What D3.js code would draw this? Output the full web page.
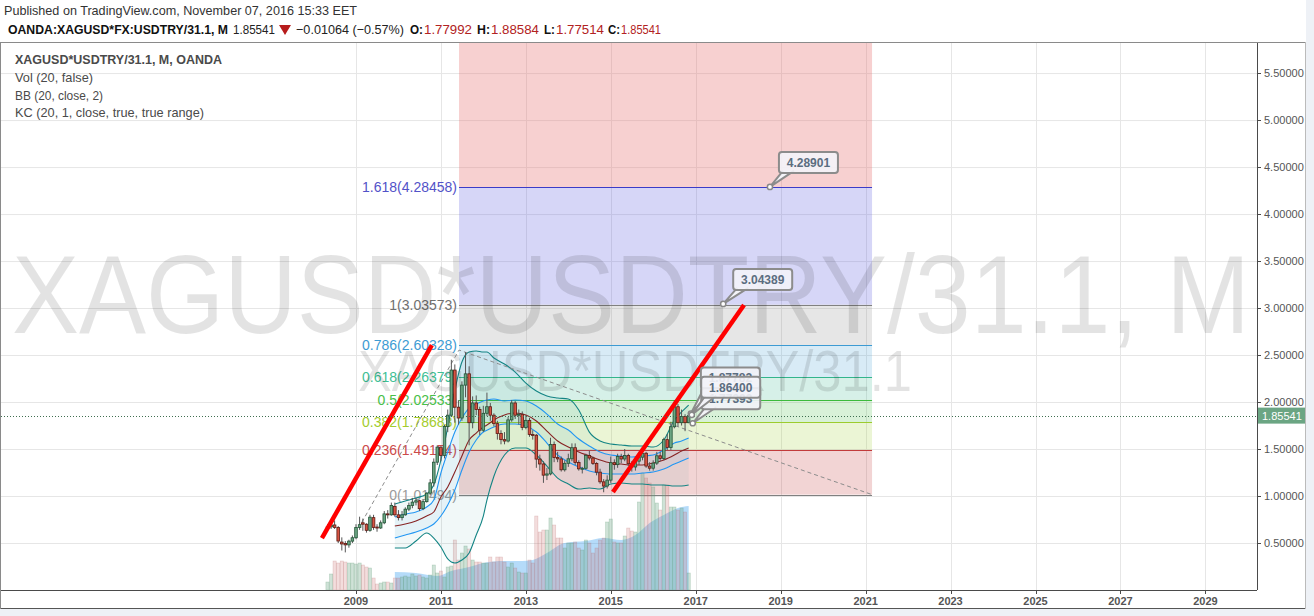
<!DOCTYPE html>
<html><head><meta charset="utf-8">
<script src="https://cdn.jsdelivr.net/npm/d3@7"></script>
<style>
html,body{margin:0;padding:0;background:#eef1f6;}
svg{display:block;}
text{font-family:"Liberation Sans",Arial,sans-serif;}
</style></head><body>
<svg id="c" width="1314" height="616"></svg>
<script>
// ---------------- DATA ----------------
const months = [
"2008-05","2008-06","2008-07","2008-08","2008-09","2008-10","2008-11","2008-12",
"2009-01","2009-02","2009-03","2009-04","2009-05","2009-06","2009-07","2009-08","2009-09","2009-10","2009-11","2009-12",
"2010-01","2010-02","2010-03","2010-04","2010-05","2010-06","2010-07","2010-08","2010-09","2010-10","2010-11","2010-12",
"2011-01","2011-02","2011-03","2011-04","2011-05","2011-06","2011-07","2011-08","2011-09","2011-10","2011-11","2011-12",
"2012-01","2012-02","2012-03","2012-04","2012-05","2012-06","2012-07","2012-08","2012-09","2012-10","2012-11","2012-12",
"2013-01","2013-02","2013-03","2013-04","2013-05","2013-06","2013-07","2013-08","2013-09","2013-10","2013-11","2013-12",
"2014-01","2014-02","2014-03","2014-04","2014-05","2014-06","2014-07","2014-08","2014-09","2014-10","2014-11","2014-12",
"2015-01","2015-02","2015-03","2015-04","2015-05","2015-06","2015-07","2015-08","2015-09","2015-10","2015-11","2015-12",
"2016-01","2016-02","2016-03","2016-04","2016-05","2016-06","2016-07","2016-08","2016-09","2016-10","2016-11"];
const open = [
0.655,0.672,0.692,0.666,0.51,0.495,0.48,0.52,
0.556,0.665,0.715,0.70,0.635,0.77,0.67,0.66,0.715,0.81,0.80,0.89,
0.80,0.77,0.80,0.86,0.90,0.935,0.95,0.865,0.94,1.03,1.14,1.36,
1.52,1.43,1.74,1.86,2.34,1.945,1.83,2.18,2.30,1.78,1.99,1.92,
1.70,1.88,1.95,1.86,1.77,1.665,1.60,1.585,1.81,1.99,1.86,1.87,
1.73,1.805,1.655,1.647,1.393,1.341,1.222,1.235,1.548,1.409,1.395,1.279,
1.348,1.396,1.514,1.356,1.289,1.295,1.431,1.404,1.347,1.254,1.151,1.106,
1.169,1.355,1.334,1.421,1.394,1.431,1.344,1.309,1.371,1.413,1.455,1.319,
1.296,1.35,1.428,1.40,1.60,1.517,1.737,1.95,1.78,1.846,1.77992];
const high = [
0.70,0.71,0.74,0.68,0.56,0.52,0.535,0.58,
0.70,0.78,0.76,0.71,0.80,0.80,0.70,0.74,0.84,0.85,0.93,0.93,
0.85,0.84,0.88,0.93,0.98,0.98,0.96,0.96,1.04,1.18,1.40,1.54,
1.53,1.76,1.92,2.45,2.40,2.02,2.22,2.53,2.38,2.06,2.07,1.95,
1.96,2.10,1.99,1.88,1.80,1.70,1.68,1.84,2.02,2.01,1.92,1.90,
1.86,1.83,1.70,1.66,1.44,1.37,1.30,1.62,1.58,1.47,1.42,1.38,
1.45,1.56,1.56,1.38,1.31,1.45,1.48,1.42,1.36,1.29,1.18,1.22,
1.42,1.39,1.45,1.45,1.50,1.45,1.37,1.42,1.47,1.50,1.47,1.36,
1.38,1.47,1.47,1.62,1.66,1.79,2.02,1.98,1.92,1.87,1.88584];
const low = [
0.64,0.65,0.65,0.50,0.42,0.40,0.45,0.50,
0.54,0.64,0.63,0.61,0.62,0.64,0.62,0.65,0.70,0.76,0.79,0.78,
0.74,0.74,0.79,0.84,0.87,0.90,0.84,0.85,0.93,1.01,1.10,1.33,
1.37,1.40,1.68,1.84,1.78,1.76,1.80,2.05,1.54,1.72,1.86,1.65,
1.68,1.85,1.80,1.74,1.60,1.55,1.55,1.57,1.79,1.82,1.76,1.70,
1.71,1.63,1.60,1.30,1.27,1.14,1.17,1.22,1.36,1.36,1.26,1.26,
1.31,1.37,1.33,1.27,1.24,1.28,1.38,1.33,1.22,1.13,1.04,1.08,
1.14,1.28,1.30,1.35,1.37,1.32,1.26,1.27,1.33,1.38,1.30,1.27,
1.27,1.33,1.37,1.38,1.49,1.49,1.72,1.74,1.75,1.69,1.77514];
const close = [
0.672,0.692,0.666,0.521,0.49,0.48,0.52,0.556,
0.665,0.695,0.70,0.635,0.775,0.665,0.66,0.715,0.81,0.80,0.90,0.80,
0.77,0.80,0.86,0.90,0.935,0.95,0.865,0.94,1.03,1.14,1.36,1.52,
1.43,1.74,1.86,2.34,1.945,1.83,2.18,2.30,1.78,1.99,1.92,1.70,
1.88,1.95,1.86,1.77,1.665,1.60,1.585,1.81,1.99,1.86,1.87,1.73,
1.805,1.655,1.647,1.393,1.341,1.222,1.235,1.548,1.409,1.395,1.279,1.348,
1.396,1.514,1.356,1.289,1.295,1.431,1.404,1.347,1.254,1.151,1.106,1.169,
1.355,1.334,1.421,1.394,1.431,1.344,1.309,1.371,1.413,1.455,1.319,1.296,
1.35,1.428,1.40,1.60,1.517,1.737,1.95,1.78,1.846,1.78,1.85541];
const volume = [
8,16,29,27,29,28,27,27,
26,27,25,23,22,12,6,7,8,8,7,12,
12,13,14,13,16,14,15,13,12,15,25,17,
19,13,23,24,50,30,37,44,41,30,28,28,
27,27,33,28,33,33,28,23,27,22,18,17,
17,30,27,74,58,60,60,72,65,52,52,42,
47,47,48,42,40,50,47,37,42,50,52,68,
71,48,47,47,54,62,59,58,88,117,112,107,
103,87,80,105,105,83,83,80,82,78,17];

// indicator readings
const bandDates = ["2009-12","2010-03","2010-06","2010-09","2010-11","2011-01","2011-03","2011-05","2011-07","2011-09","2011-11","2012-01","2012-02","2012-04","2012-07","2012-10","2013-01","2013-04","2013-07","2013-10","2014-01","2014-04","2014-07","2014-10","2015-01","2015-04","2015-07","2015-10","2016-01","2016-04","2016-07","2016-09","2016-11"];
const bbUpper = [0.915,0.947,0.979,1.021,1.117,1.383,1.734,2.128,2.426,2.532,2.543,2.532,2.532,2.468,2.404,2.319,2.202,2.117,2.064,2.043,2.032,1.915,1.68,1.585,1.553,1.543,1.532,1.532,1.521,1.596,1.809,1.894,1.968];
const bbBasis = [0.681,0.702,0.734,0.787,0.830,0.989,1.096,1.255,1.426,1.596,1.67,1.734,1.755,1.809,1.862,1.883,1.862,1.798,1.691,1.585,1.521,1.468,1.426,1.383,1.351,1.34,1.33,1.33,1.351,1.383,1.436,1.479,1.511];
const bbLower = [0.447,0.447,0.521,0.606,0.553,0.457,0.330,0.287,0.319,0.394,0.585,0.787,0.957,1.21,1.436,1.511,1.511,1.436,1.319,1.191,1.128,1.074,1.085,1.074,1.128,1.138,1.128,1.128,1.117,1.117,1.106,1.106,1.117];
const kcUpper = [0.777,0.809,0.830,0.883,0.957,1.245,1.468,1.681,1.830,1.936,1.979,2.011,2.021,2.032,2.011,2.021,2.011,1.957,1.872,1.766,1.702,1.606,1.532,1.468,1.436,1.426,1.415,1.426,1.436,1.489,1.564,1.585,1.617];
const kcLower = [0.553,0.585,0.617,0.660,0.702,0.787,0.904,1.064,1.277,1.468,1.596,1.681,1.70,1.734,1.766,1.766,1.745,1.681,1.564,1.436,1.362,1.309,1.266,1.245,1.234,1.234,1.234,1.245,1.255,1.287,1.340,1.372,1.404];
const volMaDates = ["2009-12","2010-06","2010-12","2011-04","2011-09","2012-01","2012-07","2012-12","2013-03","2013-07","2013-12","2014-06","2014-11","2015-04","2015-08","2015-12","2016-04","2016-08","2016-11"];
const volMa = [18,17,14,19,23,27,29,29,30,37,47,49,52,50,55,67,75,82,84];

// fib extension
const fibRatios = ["1.618","1","0.786","0.618","0.5","0.382","0.236","0"];
const fibPrices = [4.28458,3.03573,2.60328,2.26379,2.02533,1.78683,1.49154,1.01494];
const fibAnchorDates = ["2009-02-20","2011-06-06","2021-02-25"];
const fibAnchorPrices = [0.72,2.553,1.01494];

// user trend lines (red)
const trendStartDates = ["2008-03-14","2015-01-20"];
const trendStartPrices = [0.553,1.043];
const trendEndDates = ["2010-10-15","2018-02-20"];
const trendEndPrices = [2.606,3.032];

// price-label callouts
const calloutDates = ["2018-10-01","2017-08-25","2016-11-20","2016-12-06","2016-11-28"];
const calloutPrices = [4.28901,3.04389,1.87782,1.77393,1.864];
const calloutTexts = ["4.28901","3.04389","1.87782","1.77393","1.86400"];

const yTicks = [0.5,1,1.5,2,2.5,3,3.5,4,4.5,5,5.5];
const xTickYears = [2009,2011,2013,2015,2017,2019,2021,2023,2025,2027,2029];
const lastPrice = 1.85541;

// ---------------- LAYOUT / STYLE ----------------
const P = {left:1, right:1257, top:43, bottom:590};
const pm = d3.timeParse("%Y-%m"), pd = d3.timeParse("%Y-%m-%d");
const dates = months.map(pm);
const x = d3.scaleTime().domain([new Date(2009,0,1), new Date(2029,0,1)]).range([356,1205.4]);
const y = d3.scaleLinear().domain([0,5.82]).range([P.bottom,P.top]);
const v = d3.scaleLinear().domain([0,130]).range([P.bottom,P.bottom-130]);
const fibLineColors = ["#3c3cc8","#808080","#3d9bd3","#33b58c","#3cba3c","#9ccc2e","#c23b3b","#808080"];
const fibTextColors = ["#5252c8","#707070","#3d9bd3","#3fbf95","#49c049","#a3cc2e","#cc4a4a","#9a9a9a"];
const fibFills = ["rgba(230,110,110,0.32)","rgba(90,90,225,0.25)","rgba(128,128,128,0.2)","rgba(61,155,211,0.2)","rgba(51,181,140,0.2)","rgba(60,186,60,0.2)","rgba(156,204,46,0.2)","rgba(194,59,59,0.22)"];
const calloutDx = [9,10,10,8.5,9.4], calloutDy = [-14,-14,-25,-14,-17];
const calloutOrder = [0,1,2,3,4];

const svg = d3.select("#c");
svg.append("rect").attr("width",1314).attr("height",616).attr("fill","#eef1f6");
svg.append("rect").attr("x",0).attr("y",0).attr("width",1306).attr("height",609).attr("fill","#fff");
svg.append("defs").append("clipPath").attr("id","clip").append("rect")
  .attr("x",P.left).attr("y",P.top).attr("width",P.right-P.left).attr("height",P.bottom-P.top);

// grid
const grid = svg.append("g");
grid.selectAll("line.h").data(yTicks).join("line")
  .attr("x1",P.left).attr("x2",P.right).attr("y1",d=>y(d)+0.5).attr("y2",d=>y(d)+0.5)
  .attr("stroke","#e6e6e6");
grid.selectAll("line.v").data(xTickYears).join("line")
  .attr("x1",d=>Math.round(x(new Date(d,0,1)))+0.5).attr("x2",d=>Math.round(x(new Date(d,0,1)))+0.5)
  .attr("y1",P.top).attr("y2",P.bottom).attr("stroke","#e6e6e6");

const plot = svg.append("g").attr("clip-path","url(#clip)");

// fib zones
const fx0 = x(pd(fibAnchorDates[1])), fx1 = x(pd(fibAnchorDates[2]));
const bounds = [y.domain()[1]].concat(fibPrices);
plot.selectAll("rect.fz").data(fibFills).join("rect")
  .attr("x",fx0).attr("width",fx1-fx0)
  .attr("y",(d,i)=>y(bounds[i])).attr("height",(d,i)=>y(bounds[i+1])-y(bounds[i]))
  .attr("fill",d=>d);
plot.selectAll("line.fl").data(fibPrices).join("line")
  .attr("x1",fx0).attr("x2",fx1).attr("y1",d=>Math.round(y(d))+0.5).attr("y2",d=>Math.round(y(d))+0.5)
  .attr("stroke",(d,i)=>fibLineColors[i]).attr("stroke-width",1);
plot.selectAll("text.ft").data(fibPrices).join("text")
  .attr("x",fx0-2).attr("y",d=>y(d)).attr("dy","0.36em").attr("text-anchor","end")
  .attr("font-size",14).attr("fill",(d,i)=>fibTextColors[i])
  .text((d,i)=>fibRatios[i]+"("+d.toFixed(5)+")");

// watermarks
plot.append("text").attr("x",12).attr("y",333).attr("font-size",112)
  .attr("textLength",1238).attr("lengthAdjust","spacingAndGlyphs")
  .attr("fill","rgba(0,0,0,0.11)").text("XAGUSD*USDTRY/31.1, M");
plot.append("text").attr("x",358).attr("y",391).attr("font-size",58)
  .attr("textLength",554).attr("lengthAdjust","spacingAndGlyphs")
  .attr("fill","rgba(0,0,0,0.11)").text("XAGUSD*USDTRY/31.1");

// volume MA area
const vmaD = volMaDates.map(pm);
plot.append("path").datum(volMa)
  .attr("d",d3.area().x((d,i)=>x(vmaD[i])).y0(P.bottom).y1(d=>v(d)).curve(d3.curveMonotoneX))
  .attr("fill","rgba(60,160,240,0.38)");
// volume bars
const up = i => close[i] >= open[i];
plot.selectAll("rect.vol").data(volume).join("rect")
  .attr("x",(d,i)=>x(dates[i])-1.6).attr("width",3.2)
  .attr("y",d=>v(d)).attr("height",d=>P.bottom-v(d))
  .attr("fill",(d,i)=>up(i)?"rgba(107,165,131,0.32)":"rgba(200,100,100,0.22)")
  .attr("stroke",(d,i)=>up(i)?"rgba(90,150,110,0.35)":"rgba(180,100,100,0.3)").attr("stroke-width",0.6);

// bands
const bD = bandDates.map(pm);
const bx = (d,i)=>x(bD[i]);
plot.append("path").datum(bbUpper)
  .attr("d",d3.area().x(bx).y0((d,i)=>y(bbLower[i])).y1(d=>y(d)).curve(d3.curveMonotoneX))
  .attr("fill","rgba(25,140,140,0.06)");
plot.append("path").datum(kcUpper)
  .attr("d",d3.area().x(bx).y0((d,i)=>y(kcLower[i])).y1(d=>y(d)).curve(d3.curveMonotoneX))
  .attr("fill","rgba(33,150,243,0.06)");
const ln = d3.line().x(bx).y(d=>y(d)).curve(d3.curveMonotoneX);
[[bbUpper,"#138484"],[bbLower,"#138484"],[kcUpper,"#2196f3"],[kcLower,"#2196f3"],[bbBasis,"#872323"]].forEach(([arr,col])=>{
  plot.append("path").datum(arr).attr("d",ln).attr("fill","none").attr("stroke",col).attr("stroke-width",1.1);
});

// fib anchor dashed line
plot.append("path").datum(fibAnchorPrices)
  .attr("d",d3.line().x((d,i)=>x(pd(fibAnchorDates[i]))).y(d=>y(d)))
  .attr("fill","none").attr("stroke","#8c8c8c").attr("stroke-width",1).attr("stroke-dasharray","4,3");

// candles
const cw = 2.6;
const cg = plot.append("g");
cg.selectAll("line").data(close).join("line")
  .attr("x1",(d,i)=>x(dates[i])).attr("x2",(d,i)=>x(dates[i]))
  .attr("y1",(d,i)=>y(high[i])).attr("y2",(d,i)=>y(low[i]))
  .attr("stroke","#555").attr("stroke-width",1);
cg.selectAll("rect").data(close).join("rect")
  .attr("x",(d,i)=>x(dates[i])-cw/2).attr("width",cw)
  .attr("y",(d,i)=>y(Math.max(open[i],close[i])))
  .attr("height",(d,i)=>Math.max(1,Math.abs(y(open[i])-y(close[i]))))
  .attr("fill",(d,i)=>up(i)?"#6ba583":"#d75442")
  .attr("stroke",(d,i)=>up(i)?"#225437":"#5b1a13").attr("stroke-width",0.8);

// red trend lines
plot.selectAll("line.tr").data(trendStartDates).join("line")
  .attr("x1",(d,i)=>x(pd(d))).attr("y1",(d,i)=>y(trendStartPrices[i]))
  .attr("x2",(d,i)=>x(pd(trendEndDates[i]))).attr("y2",(d,i)=>y(trendEndPrices[i]))
  .attr("stroke","#ff0000").attr("stroke-width",4.5).attr("stroke-linecap","butt");

// price line
plot.append("line").attr("x1",P.left).attr("x2",P.right)
  .attr("y1",Math.round(y(lastPrice))+0.5).attr("y2",Math.round(y(lastPrice))+0.5)
  .attr("stroke","#3f6e50").attr("stroke-width",1).attr("stroke-dasharray","1,2");

// callouts
const bw = 59, bh = 21;
calloutOrder.forEach(i=>{
  const px = x(pd(calloutDates[i])), py = y(calloutPrices[i]);
  const bx0 = px + calloutDx[i], bb = py + calloutDy[i];
  const g = plot.append("g");
  g.append("path").attr("d",`M${bx0+4},${bb-2} L${px},${py} L${bx0+15},${bb-2}`)
    .attr("fill","#f3f3f8").attr("stroke","#8c8c8c").attr("stroke-width",2).attr("stroke-linejoin","round");
  g.append("rect").attr("x",bx0).attr("y",bb-bh).attr("width",bw).attr("height",bh).attr("rx",3)
    .attr("fill","#f3f3f8").attr("fill-opacity",0.9).attr("stroke","#8c8c8c").attr("stroke-width",2);
  g.append("text").attr("x",bx0+bw/2).attr("y",bb-bh/2).attr("dy","0.36em").attr("text-anchor","middle")
    .attr("font-size",12).attr("font-weight","bold").attr("fill","#5b6d80").text(calloutTexts[i]);
  g.append("circle").attr("cx",px).attr("cy",py).attr("r",2.6).attr("fill","#fff").attr("stroke","#888").attr("stroke-width",1.5);
});

// axes
svg.append("line").attr("x1",0).attr("x2",P.right).attr("y1",P.bottom+0.5).attr("y2",P.bottom+0.5).attr("stroke","#4a4a4a");
svg.append("line").attr("x1",P.right+0.5).attr("x2",P.right+0.5).attr("y1",P.top).attr("y2",P.bottom).attr("stroke","#4a4a4a");
const ya = svg.append("g");
ya.selectAll("line").data(yTicks).join("line")
  .attr("x1",P.right).attr("x2",P.right+4).attr("y1",d=>Math.round(y(d))+0.5).attr("y2",d=>Math.round(y(d))+0.5).attr("stroke","#4a4a4a");
ya.selectAll("text").data(yTicks).join("text")
  .attr("x",P.right+7).attr("y",d=>y(d)).attr("dy","0.36em").attr("font-size",11).attr("fill","#555")
  .text(d=>d.toFixed(5));
const xa = svg.append("g");
xa.selectAll("line").data(xTickYears).join("line")
  .attr("x1",d=>Math.round(x(new Date(d,0,1)))+0.5).attr("x2",d=>Math.round(x(new Date(d,0,1)))+0.5)
  .attr("y1",P.bottom).attr("y2",P.bottom+4).attr("stroke","#4a4a4a");
xa.selectAll("text").data(xTickYears).join("text")
  .attr("x",d=>x(new Date(d,0,1))).attr("y",P.bottom+15).attr("text-anchor","middle")
  .attr("font-size",11).attr("font-weight","bold").attr("fill","#555").text(d=>d);
// last price label
svg.append("rect").attr("x",P.right+1).attr("y",y(lastPrice)-8).attr("width",48).attr("height",16).attr("fill","#6ba583");
svg.append("text").attr("x",P.right+5).attr("y",y(lastPrice)).attr("dy","0.36em").attr("font-size",11)
  .attr("fill","#fff").text(lastPrice.toFixed(5));

// pane borders
svg.append("line").attr("x1",0).attr("x2",1306).attr("y1",42.5).attr("y2",42.5).attr("stroke","#8a8a8a");
svg.append("line").attr("x1",0).attr("x2",1306).attr("y1",608.5).attr("y2",608.5).attr("stroke","#555");
svg.append("line").attr("x1",0.5).attr("x2",0.5).attr("y1",42).attr("y2",609).attr("stroke","#8a8a8a");
svg.append("line").attr("x1",1305.5).attr("x2",1305.5).attr("y1",42).attr("y2",609).attr("stroke","#bbb");

// header
svg.append("text").attr("x",4).attr("y",15).attr("font-size",13).attr("fill","#333")
  .attr("textLength",353).attr("lengthAdjust","spacingAndGlyphs")
  .text("Published on TradingView.com, November 07, 2016 15:33 EET");
const hdr = [
  {t:"OANDA:XAGUSD*FX:USDTRY/31.1, M",x:8,w:220,b:true,c:"#111"},
  {t:"1.85541",x:233,w:42,c:"#222"},
  {t:"\u22120.01064 (\u22120.57%)",x:296,w:108,c:"#222"},
  {t:"O:",x:410,w:13,b:true,c:"#111"},{t:"1.77992",x:424,w:48,c:"#b22222"},
  {t:"H:",x:477,w:13,b:true,c:"#111"},{t:"1.88584",x:491,w:48,c:"#b22222"},
  {t:"L:",x:544,w:11,b:true,c:"#111"},{t:"1.77514",x:556,w:48,c:"#b22222"},
  {t:"C:",x:608,w:12,b:true,c:"#111"},{t:"1.85541",x:621,w:40,c:"#b22222"}];
hdr.forEach(h=>{
  svg.append("text").attr("x",h.x).attr("y",34).attr("font-size",13)
    .attr("font-weight",h.b?"bold":"normal").attr("fill",h.c)
    .attr("textLength",h.w).attr("lengthAdjust","spacingAndGlyphs").text(h.t);
});
svg.append("path").attr("d","M279,25 L291,25 L285,35 Z").attr("fill","#b71c1c");

// legend
const leg = [
  {t:"XAGUSD*USDTRY/31.1, M, OANDA",y:64,w:207,b:true},
  {t:"Vol (20, false)",y:82,w:78},
  {t:"BB (20, close, 2)",y:100,w:88},
  {t:"KC (20, 1, close, true, true range)",y:117,w:189}];
leg.forEach(l=>{
  svg.append("text").attr("x",15).attr("y",l.y).attr("font-size",13)
    .attr("font-weight",l.b?"bold":"normal").attr("fill","#4a4a4a")
    .attr("textLength",l.w).attr("lengthAdjust","spacingAndGlyphs").text(l.t);
});
</script>
</body></html>
